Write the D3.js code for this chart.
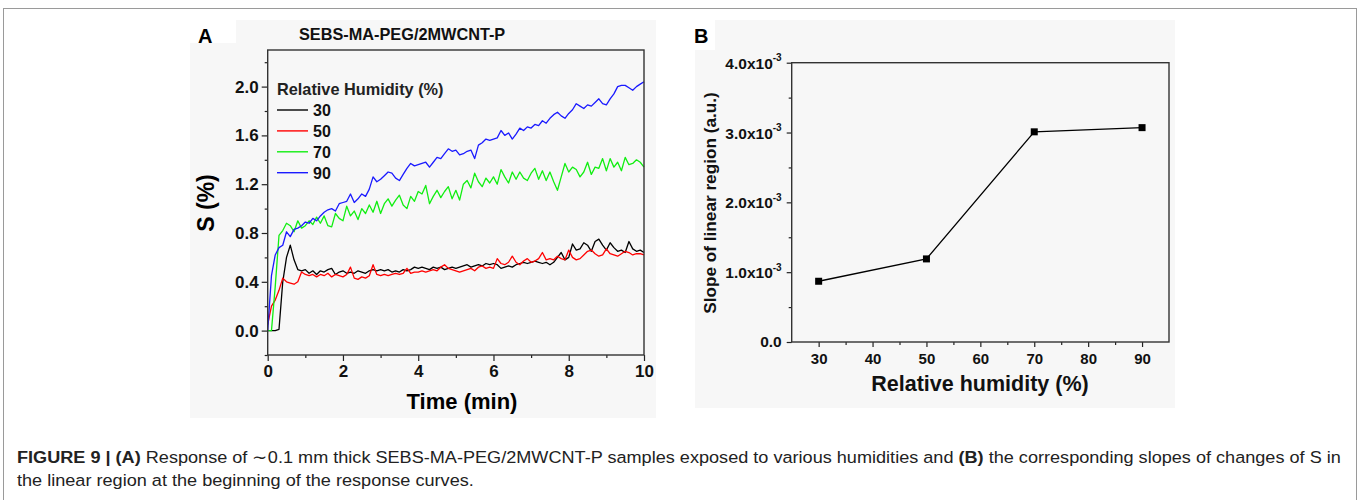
<!DOCTYPE html>
<html>
<head>
<meta charset="utf-8">
<title>Figure 9</title>
<style>
  body { margin: 0; background: #fff; }
  svg { display: block; font-family: "Liberation Sans", Arial, sans-serif; }
  .bold { font-weight: bold; }
</style>
<script src="https://d3js.org/d3.v7.min.js"></script>
</head>
<body>
<svg id="figure" width="1360" height="500"></svg>
<script>
// ---- panel A data: S (%) versus time (min) ----
const timeMin = [
  0, 0.1, 0.2, 0.3, 0.4, 0.5, 0.6, 0.7, 0.8, 0.9,
  1, 1.1, 1.2, 1.3, 1.4, 1.5, 1.6, 1.7, 1.8, 1.9,
  2, 2.1, 2.2, 2.3, 2.4, 2.5, 2.6, 2.7, 2.8, 2.9,
  3, 3.1, 3.2, 3.3, 3.4, 3.5, 3.6, 3.7, 3.8, 3.9,
  4, 4.1, 4.2, 4.3, 4.4, 4.5, 4.6, 4.7, 4.8, 4.9,
  5, 5.1, 5.2, 5.3, 5.4, 5.5, 5.6, 5.7, 5.8, 5.9,
  6, 6.1, 6.2, 6.3, 6.4, 6.5, 6.6, 6.7, 6.8, 6.9,
  7, 7.1, 7.2, 7.3, 7.4, 7.5, 7.6, 7.7, 7.8, 7.9,
  8, 8.1, 8.2, 8.3, 8.4, 8.5, 8.6, 8.7, 8.8, 8.9,
  9, 9.1, 9.2, 9.3, 9.4, 9.5, 9.6, 9.7, 9.8, 9.9,
  10
];
const rh30 = [
  0, 0, 0, 0.01, 0.40, 0.60, 0.70, 0.58, 0.50, 0.49,
  0.50, 0.47, 0.49, 0.46, 0.49, 0.48, 0.50, 0.51, 0.46, 0.48,
  0.49, 0.47, 0.48, 0.47, 0.49, 0.48, 0.47, 0.49, 0.50, 0.49,
  0.50, 0.49, 0.50, 0.48, 0.49, 0.48, 0.50, 0.49, 0.50, 0.52,
  0.51, 0.52, 0.51, 0.50, 0.52, 0.51, 0.52, 0.50, 0.51, 0.52,
  0.51, 0.52, 0.53, 0.54, 0.52, 0.53, 0.54, 0.53, 0.55, 0.54,
  0.55, 0.54, 0.51, 0.52, 0.53, 0.52, 0.54, 0.55, 0.56, 0.55,
  0.56, 0.57, 0.56, 0.55, 0.56, 0.54, 0.56, 0.60, 0.64, 0.58,
  0.60, 0.71, 0.66, 0.67, 0.72, 0.70, 0.65, 0.73, 0.75, 0.70,
  0.66, 0.72, 0.68, 0.65, 0.66, 0.64, 0.73, 0.67, 0.65, 0.66,
  0.64
];
const rh50 = [
  0.05, 0.20, 0.25, 0.33, 0.43, 0.40, 0.39, 0.38, 0.40, 0.48,
  0.46, 0.45, 0.46, 0.44, 0.46, 0.45, 0.47, 0.44, 0.46, 0.45,
  0.44, 0.46, 0.52, 0.43, 0.42, 0.44, 0.43, 0.45, 0.54, 0.46,
  0.45, 0.46, 0.45, 0.46, 0.47, 0.46, 0.47, 0.51, 0.47, 0.48,
  0.48, 0.49, 0.48, 0.49, 0.50, 0.49, 0.52, 0.54, 0.51, 0.50,
  0.49, 0.48, 0.49, 0.50, 0.51, 0.49, 0.52, 0.53, 0.51, 0.52,
  0.51, 0.59, 0.55, 0.54, 0.56, 0.61, 0.56, 0.54, 0.57, 0.59,
  0.56, 0.57, 0.59, 0.64, 0.58, 0.59, 0.58, 0.61, 0.59, 0.58,
  0.66, 0.60, 0.58, 0.59, 0.62, 0.65, 0.66, 0.63, 0.61, 0.62,
  0.67, 0.63, 0.62, 0.61, 0.63, 0.65, 0.64, 0.62, 0.63, 0.63,
  0.62
];
const rh70 = [
  0, 0, 0.36, 0.78, 0.82, 0.88, 0.86, 0.81, 0.90, 0.84,
  0.86, 0.90, 0.87, 0.93, 0.88, 0.94, 0.86, 0.85, 0.96, 0.92,
  0.90, 1.02, 0.94, 0.98, 0.91, 1.00, 0.96, 1.03, 0.97, 1.06,
  0.96, 1.04, 1.08, 1.02, 1.07, 1.11, 1.03, 1.00, 1.10, 1.06,
  1.14, 1.12, 1.19, 1.04, 1.10, 1.15, 1.09, 1.14, 1.18, 1.08,
  1.15, 1.07, 1.20, 1.23, 1.17, 1.29, 1.22, 1.18, 1.25, 1.21,
  1.26, 1.20, 1.32, 1.26, 1.21, 1.30, 1.24, 1.30, 1.25, 1.23,
  1.29, 1.33, 1.24, 1.31, 1.23, 1.30, 1.22, 1.15, 1.26, 1.37,
  1.30, 1.34, 1.32, 1.26, 1.30, 1.38, 1.28, 1.34, 1.33, 1.41,
  1.31, 1.41, 1.34, 1.38, 1.31, 1.42, 1.36, 1.37, 1.40, 1.38,
  1.34
];
const rh90 = [
  0, 0.45, 0.62, 0.68, 0.70, 0.81, 0.77, 0.83, 0.84, 0.86,
  0.89, 0.88, 0.92, 0.90, 0.94, 0.97, 0.99, 1.00, 0.98, 1.04,
  1.05, 1.06, 1.12, 1.05, 1.08, 1.12, 1.10, 1.16, 1.26, 1.22,
  1.24, 1.27, 1.30, 1.29, 1.25, 1.23, 1.28, 1.33, 1.37, 1.35,
  1.36, 1.37, 1.38, 1.34, 1.38, 1.42, 1.41, 1.45, 1.49, 1.47,
  1.48, 1.44, 1.45, 1.47, 1.48, 1.41, 1.52, 1.54, 1.57, 1.56,
  1.57, 1.58, 1.64, 1.60, 1.62, 1.57, 1.61, 1.66, 1.64, 1.67,
  1.66, 1.69, 1.68, 1.72, 1.70, 1.74, 1.77, 1.79, 1.76, 1.74,
  1.78, 1.81, 1.86, 1.84, 1.82, 1.85, 1.84, 1.87, 1.90, 1.86,
  1.85, 1.90, 1.94, 2.00, 2.01, 2.01, 1.99, 1.97, 2.00, 2.02,
  2.04
];
const legendLabels = ['30', '50', '70', '90'];
const seriesColors = ['#000000', '#ff0000', '#11ee11', '#1a1aff'];
const aTicksX = [0, 2, 4, 6, 8, 10];
const aMinorX = [1, 3, 5, 7, 9];
const aTicksY = [0, 0.4, 0.8, 1.2, 1.6, 2.0];
const aMinorY = [-0.2, 0.2, 0.6, 1.0, 1.4, 1.8, 2.2];

// ---- panel B data: slope of the linear region versus humidity ----
const humidity = [30, 50, 70, 90];
const slope = [0.00087, 0.00119, 0.00301, 0.00307];
const bTicksX = [30, 40, 50, 60, 70, 80, 90];
const bMinorX = [35, 45, 55, 65, 75, 85];
const bTicksY = [0, 0.001, 0.002, 0.003, 0.004];
const bMinorY = [0.0005, 0.0015, 0.0025, 0.0035];

const svg = d3.select('#figure');

// outer frame of the figure box
svg.append('rect')
  .attr('x', 3.5).attr('y', 8.5).attr('width', 1353).attr('height', 510)
  .attr('fill', 'none').attr('stroke', '#9a9a9a').attr('stroke-width', 1);

// light grey image backgrounds of the two panels
svg.append('rect').attr('x', 190).attr('y', 20).attr('width', 466).attr('height', 398).attr('fill', '#f7f7f7');
svg.append('rect').attr('x', 190).attr('y', 20).attr('width', 46).attr('height', 23).attr('fill', '#fff');
svg.append('rect').attr('x', 695).attr('y', 20).attr('width', 480).attr('height', 388).attr('fill', '#f7f7f7');
svg.append('rect').attr('x', 695).attr('y', 20).attr('width', 20).attr('height', 30).attr('fill', '#fff');

// helper to style an axis group
function styleAxis(g, fontSize) {
  g.select('.domain').remove();
  g.selectAll('.tick line').attr('stroke', '#222').attr('stroke-width', 1.2);
  g.selectAll('.tick text')
    .attr('font-family', '"Liberation Sans", Arial, sans-serif')
    .attr('font-weight', 'bold')
    .attr('font-size', fontSize)
    .attr('fill', '#111');
}

// ================= Panel A =================
const A = { left: 267.7, right: 644, top: 50, bottom: 355 };
const xA = d3.scaleLinear().domain([0, 10]).range([A.left, A.right]);
const yA = d3.scaleLinear().domain([-0.2, 2.3]).range([A.bottom, A.top]);

const gA = svg.append('g');

gA.append('g').attr('transform', `translate(0,${A.bottom})`)
  .call(d3.axisBottom(xA).tickValues(aMinorX).tickSize(3).tickFormat(''))
  .call(g => styleAxis(g, 15));
gA.append('g').attr('transform', `translate(0,${A.bottom})`)
  .call(d3.axisBottom(xA).tickValues(aTicksX).tickSize(6).tickPadding(4).tickFormat(d3.format('d')))
  .call(g => styleAxis(g, 17));
gA.append('g').attr('transform', `translate(${A.left},0)`)
  .call(d3.axisLeft(yA).tickValues(aMinorY).tickSize(3).tickFormat(''))
  .call(g => styleAxis(g, 15));
gA.append('g').attr('transform', `translate(${A.left},0)`)
  .call(d3.axisLeft(yA).tickValues(aTicksY).tickSize(6).tickPadding(3).tickFormat(d3.format('.1f')))
  .call(g => styleAxis(g, 17));

const seriesA = [rh30, rh50, rh70, rh90];
const lineA = d3.line().x((d, i) => xA(timeMin[i])).y(d => yA(d));
gA.selectAll('path.series')
  .data(seriesA)
  .join('path')
  .attr('class', 'series')
  .attr('d', d => lineA(d))
  .attr('fill', 'none')
  .attr('stroke', (d, i) => seriesColors[i])
  .attr('stroke-width', 1.3)
  .attr('stroke-linejoin', 'round');

gA.append('rect')
  .attr('x', A.left).attr('y', A.top)
  .attr('width', A.right - A.left).attr('height', A.bottom - A.top)
  .attr('fill', 'none').attr('stroke', '#333').attr('stroke-width', 1.4);

// legend
gA.append('text').attr('class', 'bold').attr('x', 277).attr('y', 95)
  .attr('font-size', 16.3).attr('fill', '#222').text('Relative Humidity (%)');
const leg = gA.selectAll('g.leg').data(legendLabels).join('g')
  .attr('class', 'leg')
  .attr('transform', (d, i) => `translate(277,${110 + i * 20.9})`);
leg.append('line').attr('x1', 0).attr('x2', 31).attr('stroke', (d, i) => seriesColors[i]).attr('stroke-width', 1.4);
leg.append('text').attr('class', 'bold').attr('x', 36).attr('y', 6)
  .attr('font-size', 16).attr('fill', '#111').text(d => d);

// titles
svg.append('text').attr('class', 'bold').attr('x', 198).attr('y', 43).attr('font-size', 20).text('A');
svg.append('text').attr('class', 'bold').attr('x', 299).attr('y', 40).attr('font-size', 16.3)
  .attr('fill', '#111').text('SEBS-MA-PEG/2MWCNT-P');
svg.append('text').attr('class', 'bold').attr('transform', 'translate(214,203) rotate(-90)')
  .attr('text-anchor', 'middle').attr('font-size', 23).text('S (%)');
svg.append('text').attr('class', 'bold').attr('x', 462).attr('y', 409)
  .attr('text-anchor', 'middle').attr('font-size', 22).text('Time (min)');

// ================= Panel B =================
const B = { left: 791.7, right: 1169, top: 62.7, bottom: 342 };
const xB = d3.scaleLinear().domain([25, 95]).range([B.left, B.right]);
const yB = d3.scaleLinear().domain([0, 0.004]).range([B.bottom, B.top]);

const gB = svg.append('g');
gB.append('g').attr('transform', `translate(0,${B.bottom})`)
  .call(d3.axisBottom(xB).tickValues(bMinorX).tickSize(3).tickFormat(''))
  .call(g => styleAxis(g, 14));
gB.append('g').attr('transform', `translate(0,${B.bottom})`)
  .call(d3.axisBottom(xB).tickValues(bTicksX).tickSize(5).tickPadding(6).tickFormat(d3.format('d')))
  .call(g => styleAxis(g, 15));
gB.append('g').attr('transform', `translate(${B.left},0)`)
  .call(d3.axisLeft(yB).tickValues(bMinorY).tickSize(3).tickFormat(''))
  .call(g => styleAxis(g, 14));
const yAxisB = gB.append('g').attr('transform', `translate(${B.left},0)`)
  .call(d3.axisLeft(yB).tickValues(bTicksY).tickSize(5).tickPadding(5).tickFormat(''))
  .call(g => styleAxis(g, 15.5));
// scientific labels with a superscript exponent
yAxisB.selectAll('.tick text').each(function (d) {
  const t = d3.select(this);
  if (d === 0) { t.text('0.0'); return; }
  t.attr('dy', null).attr('y', 5.5);
  t.append('tspan').text(d3.format('.1f')(d * 1000) + 'x10');
  t.append('tspan').attr('font-size', 10).attr('dy', -7.5).text('-3');
});
yAxisB.selectAll('.tick text').filter(d => d === 0).attr('dy', '0.32em');

const lineB = d3.line().x((d, i) => xB(humidity[i])).y(d => yB(d));
gB.append('path').attr('d', lineB(slope)).attr('fill', 'none').attr('stroke', '#000').attr('stroke-width', 1.3);
gB.selectAll('rect.pt').data(slope).join('rect').attr('class', 'pt')
  .attr('x', (d, i) => xB(humidity[i]) - 3.5).attr('y', d => yB(d) - 3.5)
  .attr('width', 7).attr('height', 7).attr('fill', '#000');

gB.append('rect')
  .attr('x', B.left).attr('y', B.top)
  .attr('width', B.right - B.left).attr('height', B.bottom - B.top)
  .attr('fill', 'none').attr('stroke', '#333').attr('stroke-width', 1.4);

svg.append('text').attr('class', 'bold').attr('x', 694).attr('y', 43).attr('font-size', 20).text('B');
svg.append('text').attr('class', 'bold').attr('transform', 'translate(716,203) rotate(-90)')
  .attr('text-anchor', 'middle').attr('font-size', 17.2).attr('fill', '#111').text('Slope of linear region (a.u.)');
svg.append('text').attr('class', 'bold').attr('x', 980).attr('y', 391)
  .attr('text-anchor', 'middle').attr('font-size', 21.5).attr('fill', '#111').text('Relative humidity (%)');

// ================= Caption =================
const capFont = '"Liberation Sans Narrow", "Liberation Sans", Arial, sans-serif';
const cap1 = svg.append('text').attr('font-family', capFont).attr('font-size', 17).attr('fill', '#222');
cap1.append('tspan').attr('font-weight', 'bold').text('FIGURE 9 | (A)');
cap1.append('tspan').text(' Response of \u223C0.1 mm thick SEBS-MA-PEG/2MWCNT-P samples exposed to various humidities and ');
cap1.append('tspan').attr('font-weight', 'bold').text('(B)');
cap1.append('tspan').text(' the corresponding slopes of changes of S in');
const cap2 = svg.append('text').attr('font-family', capFont).attr('font-size', 17).attr('fill', '#222')
  .text('the linear region at the beginning of the response curves.');
const k = 1325 / cap1.node().getComputedTextLength();
cap1.attr('transform', `translate(17,463) scale(${k},1)`);
cap2.attr('transform', `translate(17,486) scale(${k},1)`);
</script>
</body>
</html>
